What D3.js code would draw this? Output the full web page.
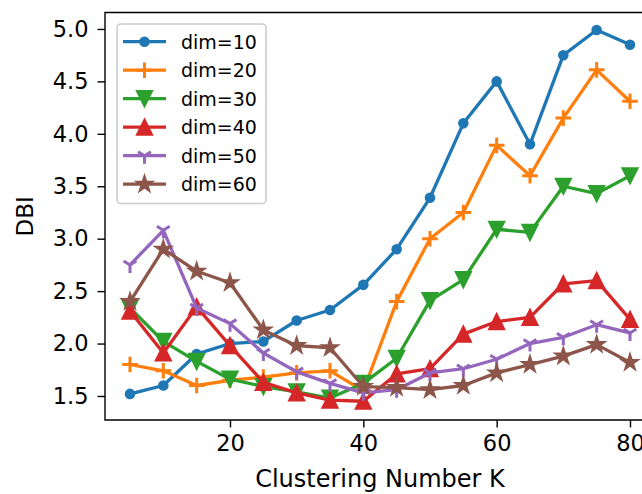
<!DOCTYPE html>
<html>
<head>
<meta charset="utf-8">
<script src="https://cdn.jsdelivr.net/npm/d3@7"></script>
<style>
	body { margin: 0; background: #fff; }
	text { font-family: 'DejaVu Sans', sans-serif; fill: #000; }
</style>
</head>
<body>
<script>
// clustering number K on the x axis
const kValues = [5, 10, 15, 20, 25, 30, 35, 40, 45, 50, 55, 60, 65, 70, 75, 80];

// DBI per embedding dimension
const dim10 = [1.52, 1.60, 1.90, 2.00, 2.02, 2.22, 2.32, 2.56, 2.90, 3.39, 4.10, 4.50, 3.90, 4.75, 4.99, 4.85];
const dim20 = [1.80, 1.74, 1.60, 1.65, 1.68, 1.72, 1.74, 1.55, 2.40, 3.00, 3.25, 3.89, 3.60, 4.15, 4.61, 4.31];
const dim30 = [2.34, 2.02, 1.83, 1.66, 1.59, 1.54, 1.48, 1.62, 1.86, 2.41, 2.61, 3.09, 3.06, 3.50, 3.43, 3.60];
const dim40 = [2.31, 1.91, 2.35, 1.98, 1.63, 1.53, 1.46, 1.45, 1.71, 1.76, 2.09, 2.21, 2.25, 2.57, 2.60, 2.23];
const dim50 = [2.75, 3.08, 2.34, 2.19, 1.91, 1.73, 1.62, 1.53, 1.56, 1.72, 1.76, 1.85, 2.00, 2.06, 2.18, 2.10];
const dim60 = [2.40, 2.90, 2.69, 2.58, 2.13, 1.98, 1.96, 1.59, 1.58, 1.56, 1.60, 1.72, 1.80, 1.88, 1.99, 1.82];

const seriesNames = ['dim=10', 'dim=20', 'dim=30', 'dim=40', 'dim=50', 'dim=60'];
const seriesValues = [dim10, dim20, dim30, dim40, dim50, dim60];
const seriesColors = ['#1f77b4', '#ff7f0e', '#2ca02c', '#d62728', '#9467bd', '#8c564b'];
const seriesMarkers = ['point', 'plus', 'triangleDown', 'triangleUp', 'triDown', 'star'];

const xTicks = [20, 40, 60, 80];
const yTicks = [1.5, 2.0, 2.5, 3.0, 3.5, 4.0, 4.5, 5.0];

const width = 642;
const height = 494;
const plot = { left: 105, right: 655, top: 12.5, bottom: 420 };

const x = d3.scaleLinear().domain([1.25, 83.75]).range([plot.left, plot.right]);
const y = d3.scaleLinear().domain([1.271, 5.157]).range([plot.bottom, plot.top]);

const svg = d3.select('body').append('svg').attr('width', width).attr('height', height);

/*
	marker shapes, roughly like matplotlib's
*/
function markerPath(type) {
	if (type === 'point') {
		const r = 4.3;
		return `M${r},0A${r},${r} 0 1,1 ${-r},0A${r},${r} 0 1,1 ${r},0Z`;
	}
	if (type === 'plus') {
		const h = 7.8;
		return `M${-h},0L${h},0M0,${-h}L0,${h}`;
	}
	if (type === 'triangleDown') {
		const h = 7.6;
		return `M0,${h}L${-h},${-h}L${h},${-h}Z`;
	}
	if (type === 'triangleUp') {
		const h = 7.6;
		return `M0,${-h}L${-h},${h}L${h},${h}Z`;
	}
	if (type === 'triDown') {
		const h = 8;
		return `M0,0L0,${h}M0,0L${0.8 * h},${-0.5 * h}M0,0L${-0.8 * h},${-0.5 * h}`;
	}
	// star
	const R = 8.2;
	const r = R * 0.381966;
	let d = '';
	for (let i = 0; i < 10; i++) {
		const a = -Math.PI / 2 + (i * Math.PI) / 5;
		const rr = i % 2 === 0 ? R : r;
		d += (i === 0 ? 'M' : 'L') + (rr * Math.cos(a)).toFixed(2) + ',' + (rr * Math.sin(a)).toFixed(2);
	}
	return d + 'Z';
}

function drawMarker(g, type, color, cx, cy) {
	const lineOnly = type === 'plus' || type === 'triDown';
	g.append('path')
		.attr('d', markerPath(type))
		.attr('transform', `translate(${cx},${cy})`)
		.attr('fill', lineOnly ? 'none' : color)
		.attr('stroke', color)
		.attr('stroke-width', lineOnly ? 3 : 2)
		.attr('stroke-linejoin', 'miter');
}

/*
	series
*/
svg.append('clipPath').attr('id', 'plotClip')
	.append('rect')
	.attr('x', plot.left).attr('y', plot.top)
	.attr('width', plot.right - plot.left).attr('height', plot.bottom - plot.top);

const gSeries = svg.append('g').attr('clip-path', 'url(#plotClip)');
const line = d3.line().x((d) => x(d[0])).y((d) => y(d[1]));

seriesValues.forEach((values, i) => {
	const pts = kValues.map((k, j) => [k, values[j]]);
	const g = gSeries.append('g');
	g.append('path')
		.attr('d', line(pts))
		.attr('fill', 'none')
		.attr('stroke', seriesColors[i])
		.attr('stroke-width', 3.3)
		.attr('stroke-linejoin', 'round')
		.attr('stroke-linecap', 'square');
	pts.forEach((p) => drawMarker(g, seriesMarkers[i], seriesColors[i], x(p[0]), y(p[1])));
});

/*
	axes
*/
const gx = svg.append('g').attr('transform', `translate(0,${plot.bottom})`)
	.call(d3.axisBottom(x).tickValues(xTicks).tickSize(7.5).tickPadding(8).tickFormat(d3.format('d')));
const gy = svg.append('g').attr('transform', `translate(${plot.left},0)`)
	.call(d3.axisLeft(y).tickValues(yTicks).tickSize(7.5).tickPadding(9).tickFormat(d3.format('.1f')));

[gx, gy].forEach((g) => {
	g.select('.domain').remove();
	g.selectAll('.tick line').attr('stroke', '#000').attr('stroke-width', 1.4);
	g.selectAll('.tick text').attr('font-size', 22.5).attr('font-family', 'DejaVu Sans').attr('fill', '#000');
});

// spines: left, bottom, top (right one falls outside the picture)
svg.append('path')
	.attr('d', `M${plot.right},${plot.top}H${plot.left}V${plot.bottom}H${plot.right}`)
	.attr('fill', 'none')
	.attr('stroke', '#000')
	.attr('stroke-width', 1.4);

svg.append('text')
	.attr('x', (plot.left + plot.right) / 2)
	.attr('y', 487)
	.attr('text-anchor', 'middle')
	.attr('font-size', 24)
	.text('Clustering Number K');

svg.append('text')
	.attr('transform', `translate(33,${(plot.top + plot.bottom) / 2}) rotate(-90)`)
	.attr('text-anchor', 'middle')
	.attr('font-size', 23)
	.text('DBI');

/*
	legend
*/
const gLegend = svg.append('g');
gLegend.append('rect')
	.attr('x', 117).attr('y', 24)
	.attr('width', 149).attr('height', 179.5)
	.attr('rx', 4)
	.attr('fill', '#fff').attr('fill-opacity', 0.8)
	.attr('stroke', '#cccccc').attr('stroke-width', 1.6);

seriesNames.forEach((name, i) => {
	const ly = 41.7 + i * 28.5;
	gLegend.append('line')
		.attr('x1', 123).attr('x2', 166)
		.attr('y1', ly).attr('y2', ly)
		.attr('stroke', seriesColors[i]).attr('stroke-width', 3.3);
	drawMarker(gLegend, seriesMarkers[i], seriesColors[i], 144.5, ly);
	gLegend.append('text')
		.attr('x', 181)
		.attr('y', ly)
		.attr('dy', '0.36em')
		.attr('font-size', 19)
		.text(name);
});
</script>
</body>
</html>
